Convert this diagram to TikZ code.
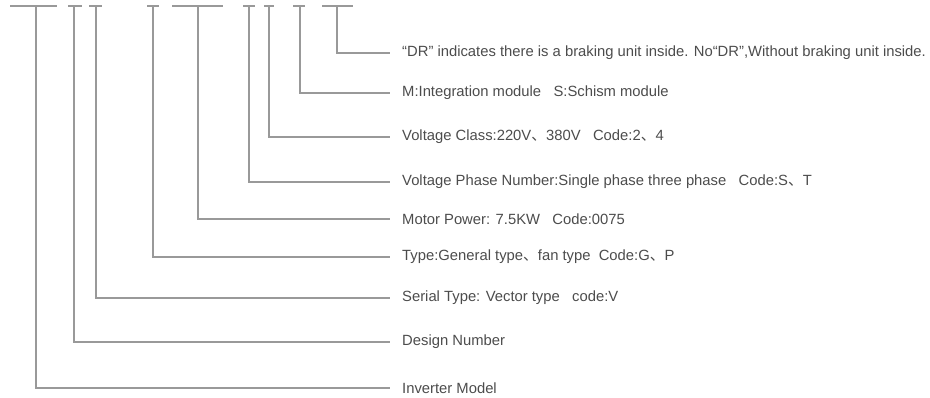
\documentclass[tikz,border=0pt]{standalone}
\usepackage{fontspec}
\setmainfont{Liberation Sans}
\newfontfamily\cjk{Noto Sans CJK SC}
\newcommand{\dun}{{\cjk 、}}
\begin{document}
\begin{tikzpicture}[x=1pt,y=-1pt,
  lead/.style={draw=black!40, line width=1.5pt},
  barnode/.style={fill=black!40, inner sep=0pt, minimum height=1.6pt, draw=none},
  lbl/.style={anchor=west, inner xsep=12pt, inner ysep=0pt, text=black!70, font=\fontsize{14.8}{17}\selectfont}]
\useasboundingbox (0,0) rectangle (930,397);
% top bars
\node[barnode, minimum width=47pt] (b1) at (33.5,6) {};
\node[barnode, minimum width=14pt] (b2) at (75,6) {};
\node[barnode, minimum width=13pt] (b3) at (95.5,6) {};
\node[barnode, minimum width=12pt] (b4) at (153,6) {};
\node[barnode, minimum width=51pt] (b5) at (197.5,6) {};
\node[barnode, minimum width=12pt] (b6) at (249,6) {};
\node[barnode, minimum width=10pt] (b7) at (269,6) {};
\node[barnode, minimum width=12pt] (b8) at (299,6) {};
\node[barnode, minimum width=31pt] (b9) at (337.5,6) {};
% labels
\node[lbl] (t9) at (390,53) {\textquotedblleft DR\textquotedblright\ indicates there is a braking unit inside. No\textquotedblleft DR\textquotedblright,Without braking unit inside.};
\node[lbl] (t8) at (390,93) {M:Integration module\ \ \ S:Schism module};
\node[lbl] (t7) at (390,137) {Voltage Class:220V\dun 380V\ \ \ Code:2\dun 4};
\node[lbl] (t6) at (390,182) {Voltage Phase Number:Single phase three phase\ \ \ Code:S\dun T};
\node[lbl] (t5) at (390,219) {Motor Power: 7.5KW\ \ \ Code:0075};
\node[lbl] (t4) at (390,257) {Type:General type\dun fan type\ \ Code:G\dun P};
\node[lbl] (t3) at (390,298) {Serial Type: Vector type\ \ \ code:V};
\node[lbl] (t2) at (390,342) {Design Number};
\node[lbl] (t1) at (390,388) {Inverter Model};
% connectors
\draw[lead] (36,6) |- (t1.west);
\draw[lead] (74,6) |- (t2.west);
\draw[lead] (96,6) |- (t3.west);
\draw[lead] (b4.center) |- (t4.west);
\draw[lead] (198,6) |- (t5.west);
\draw[lead] (b6.center) |- (t6.west);
\draw[lead] (b7.center) |- (t7.west);
\draw[lead] (300,6) |- (t8.west);
\draw[lead] (337,6) |- (t9.west);
\end{tikzpicture}
\end{document}
